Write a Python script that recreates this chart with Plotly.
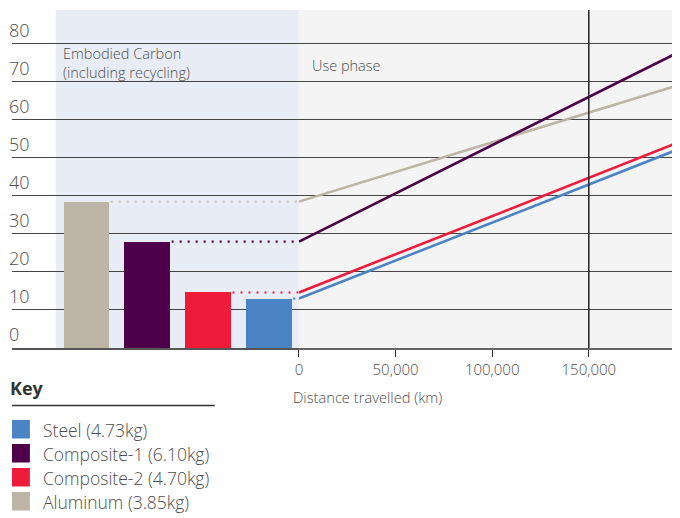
import plotly.graph_objects as go

# ---- data ----
bar_materials = ["Aluminum", "Composite-1", "Composite-2", "Steel"]
embodied_carbon = [38.5, 28.0, 14.6, 13.0]
distance_km = [0, 200000]
use_phase_end = [69.7, 78.7, 54.8, 53.0]  # emissions at 200,000 km, same order as bar_materials

legend_materials = ["Steel", "Composite-1", "Composite-2", "Aluminum"]
legend_labels = ["Steel (4.73kg)", "Composite-1 (6.10kg)", "Composite-2 (4.70kg)", "Aluminum (3.85kg)"]

y_ticks = [0, 10, 20, 30, 40, 50, 60, 70, 80]
x_ticks = [0, 50000, 100000, 150000]
x_ticklabels = ["0", "50,000", "100,000", "150,000"]
highlight_km = 150000

colors = {
    "Steel": "#4b84c4",
    "Composite-1": "#4d0049",
    "Composite-2": "#ee1b3b",
    "Aluminum": "#bcb5a5",
}
dot_colors = {
    "Steel": "#4b84c4",
    "Composite-1": "#4d0049",
    "Composite-2": "#ee1b3b",
    "Aluminum": "#cdc7bb",
}

# page body has an 8px margin and the visible area ends at x=672
OFF = 8
W, H = 672 - OFF, 518 - OFF
FONT = "Open Sans"
TXT = "#4d4d4d"

def px(x):
    return (x - OFF) / W

def py(y):
    return (H - (y - OFF)) / H

# layout geometry (screen pixels)
SPLIT = 296.5
bar_pitch = 61.17
first_bar_center = 83.0
bar_lo = -(first_bar_center - OFF) / bar_pitch
bar_range = [bar_lo, bar_lo + (SPLIT - OFF) / bar_pitch]
km_per_px = 50000 / 97.2
zero_px = 296.7
x2_range = [(SPLIT - zero_px) * km_per_px, (672 - zero_px) * km_per_px]

fig = go.Figure()

# bars
for i, (m, v) in enumerate(zip(bar_materials, embodied_carbon)):
    fig.add_trace(go.Bar(x=[i], y=[v], width=0.752, marker=dict(color=colors[m], line=dict(width=0)),
                         xaxis="x", yaxis="y", showlegend=False, hoverinfo="skip"))
# dotted connectors
for i, (m, v) in enumerate(zip(bar_materials, embodied_carbon)):
    fig.add_trace(go.Scatter(x=[i + 0.40, bar_range[1]], y=[v, v], mode="lines",
                             line=dict(color=dot_colors[m], width=2.2, dash="2px,6px"),
                             xaxis="x", yaxis="y", showlegend=False, hoverinfo="skip"))
# use phase lines
for m, v0, v1 in zip(bar_materials, embodied_carbon, use_phase_end):
    fig.add_trace(go.Scatter(x=distance_km, y=[v0, v1], mode="lines",
                             line=dict(color=colors[m], width=2.6),
                             xaxis="x2", yaxis="y", showlegend=False, hoverinfo="skip"))

ydom = [py(348), py(10)]
shapes = [
    dict(type="rect", xref="paper", yref="paper", x0=px(52), x1=px(SPLIT), y0=ydom[0], y1=ydom[1],
         fillcolor="#e8ecf5", line=dict(width=0), layer="below"),
    dict(type="rect", xref="paper", yref="paper", x0=px(SPLIT), x1=1, y0=ydom[0], y1=ydom[1],
         fillcolor="#f4f4f4", line=dict(width=0), layer="below"),
    dict(type="line", xref="x2", yref="paper", x0=highlight_km, x1=highlight_km, y0=ydom[0], y1=ydom[1],
         line=dict(color="#222222", width=1.5)),
    # key underline
    dict(type="line", xref="paper", yref="paper", x0=0, x1=px(212), y0=py(405.5), y1=py(405.5),
         line=dict(color="#333333", width=1.5)),
]
annotations = [
    dict(text="Embodied Carbon<br>(including recycling)", xref="paper", yref="paper",
         x=px(57), y=py(63.5), xanchor="left", yanchor="middle", showarrow=False, align="left",
         font=dict(family=FONT, size=14.5, color=TXT, weight=300)),
    dict(text="Use phase", xref="paper", yref="paper",
         x=px(308), y=py(65), xanchor="left", yanchor="middle", showarrow=False,
         font=dict(family=FONT, size=14.5, color=TXT, weight=300)),
    dict(text="Distance travelled (km)", xref="paper", yref="paper",
         x=px(289), y=py(397), xanchor="left", yanchor="middle", showarrow=False,
         font=dict(family=FONT, size=14.7, color=TXT, weight=300)),
    dict(text="<b>Key</b>", xref="paper", yref="paper",
         x=0, xshift=-4, y=py(388), xanchor="left", yanchor="middle", showarrow=False,
         font=dict(family=FONT, size=18, color="#333333")),
]
# y tick labels (sit just above their gridlines)
for t in y_ticks:
    annotations.append(dict(text=str(t), xref="paper", yref="y", x=0, xshift=-5, y=t, yshift=14,
                            xanchor="left", yanchor="middle", showarrow=False,
                            font=dict(family=FONT, size=18, color=TXT, weight=300)))
for k, (m, lab) in enumerate(zip(legend_materials, legend_labels)):
    top = 420 + 24 * k
    shapes.append(dict(type="rect", xref="paper", yref="paper", x0=0, x1=px(26),
                       y0=py(top + 18.5), y1=py(top), fillcolor=colors[m], line=dict(width=0)))
    annotations.append(dict(text=lab, xref="paper", yref="paper", x=px(37), y=py(top + 9.5),
                            xanchor="left", yanchor="middle", showarrow=False,
                            font=dict(family=FONT, size=17.5, color=TXT, weight=300)))

fig.update_layout(
    width=W, height=H,
    margin=dict(l=0, r=0, t=0, b=0, pad=0),
    paper_bgcolor="white",
    plot_bgcolor="rgba(0,0,0,0)",
    bargap=0,
    showlegend=False,
    xaxis=dict(domain=[0, px(SPLIT)], range=bar_range, showticklabels=False, ticks="",
               showgrid=False, zeroline=False, showline=True, linecolor="#555555", linewidth=1.5,
               fixedrange=True),
    xaxis2=dict(domain=[px(SPLIT), 1], range=x2_range, anchor="y",
                tickvals=x_ticks, ticktext=x_ticklabels, ticks="outside", ticklen=7,
                tickcolor="#333333", tickwidth=1.2, showgrid=False, zeroline=False,
                showline=True, linecolor="#666666", linewidth=1.5,
                tickfont=dict(family=FONT, size=15, color=TXT, weight=300)),
    yaxis=dict(domain=ydom, range=[0, 88.9], anchor="x", tickvals=y_ticks,
               showticklabels=False, ticks="",
               showgrid=True, gridcolor="#444444", gridwidth=1.2, zeroline=False),
    shapes=shapes,
    annotations=annotations,
)

fig.write_html("out.html")
